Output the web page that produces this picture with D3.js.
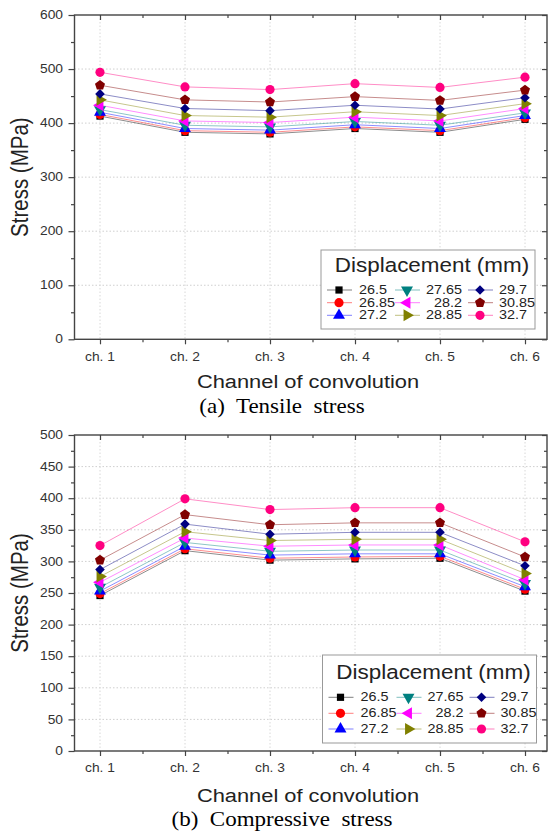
<!DOCTYPE html>
<html><head><meta charset="utf-8">
<script src="https://cdn.jsdelivr.net/npm/d3@7"></script>
<style>body{margin:0;background:#fff}svg{display:block}text{white-space:pre}</style>
</head><body>
<svg id="c" width="548" height="837"></svg>
<script>
// ---------- data ----------
const categories = ["ch. 1", "ch. 2", "ch. 3", "ch. 4", "ch. 5", "ch. 6"];
const seriesNames = ["26.5", "26.85", "27.2", "27.65", "28.2", "28.85", "29.7", "30.85", "32.7"];
const seriesColors = ["#000000", "#ff0000", "#0000ff", "#008080", "#ff00ff", "#808000", "#000080", "#800000", "#ff0080"];
const seriesShapes = ["square", "circle", "triUp", "triDown", "triLeft", "triRight", "diamond", "pentagon", "circle"];

// (a) Tensile stress, one row per displacement (mm), columns ch.1..ch.6
const tensile = [
  [413, 383, 380, 390, 383, 407],
  [416, 386, 383, 393, 386, 410],
  [420, 390, 387, 397, 390, 414],
  [425, 396, 393, 403, 396, 419],
  [433, 404, 401, 411, 404, 427],
  [443, 414, 411, 421, 414, 436],
  [454, 427, 423, 433, 426, 447],
  [470, 443, 439, 449, 442, 461],
  [494, 467, 462, 473, 466, 485]
];
// (b) Compressive stress
const compressive = [
  [246, 317, 302, 304, 305, 253],
  [249, 320, 305, 307, 308, 256],
  [253, 324, 310, 312, 312, 260],
  [259, 330, 316, 318, 318, 265],
  [267, 337, 324, 326, 326, 271],
  [276, 347, 333, 335, 335, 281],
  [287, 359, 343, 346, 346, 293],
  [302, 374, 358, 361, 361, 307],
  [325, 399, 382, 385, 385, 331]
];
const tensileTicks = [0, 100, 200, 300, 400, 500, 600];
const compressiveTicks = [0, 50, 100, 150, 200, 250, 300, 350, 400, 450, 500];

const legendTitle = "Displacement (mm)";
const yTitle = "Stress (MPa)";
const xTitle = "Channel of convolution";
const captions = ["(a)  Tensile  stress", "(b)  Compressive  stress"];

// ---------- drawing ----------
const svg = d3.select("#c");
const SX = 1.15;
const SANS = "'Liberation Sans', Arial, sans-serif";
const SERIF = "'Liberation Serif', 'Times New Roman', serif";

function label(g, x, y, s, size, anchor, opts = {}) {
  return g.append("text")
    .attr("transform", `translate(${x},${y}) scale(${SX},1)` + (opts.rotate ? ` rotate(${opts.rotate})` : ""))
    .attr("text-anchor", anchor)
    .attr("dominant-baseline", "central")
    .attr("font-family", opts.family || SANS)
    .attr("font-size", size)
    .attr("fill", opts.fill || "#222")
    .text(s);
}

const pentagon = {
  draw(ctx, size) {
    const r = Math.sqrt(size / 2.378);
    for (let i = 0; i < 5; i++) {
      const a = -Math.PI / 2 + i * 2 * Math.PI / 5;
      const px = r * Math.cos(a), py = r * Math.sin(a);
      if (i === 0) ctx.moveTo(px, py); else ctx.lineTo(px, py);
    }
    ctx.closePath();
  }
};
function marker(g, shape, x, y, color) {
  let type = d3.symbolCircle, size = 66, rot = 0;
  if (shape === "square") { type = d3.symbolSquare; size = 52; }
  else if (shape === "triUp") { type = d3.symbolTriangle; size = 62; }
  else if (shape === "triDown") { type = d3.symbolTriangle; size = 62; rot = 180; }
  else if (shape === "triLeft") { type = d3.symbolTriangle; size = 62; rot = -90; }
  else if (shape === "triRight") { type = d3.symbolTriangle; size = 62; rot = 90; }
  else if (shape === "diamond") { type = d3.symbolSquare; size = 46; rot = 45; }
  else if (shape === "pentagon") { type = pentagon; size = 66; }
  g.append("path")
    .attr("d", d3.symbol().type(type).size(size)())
    .attr("transform", `translate(${x},${y}) rotate(${rot})`)
    .attr("fill", color);
}

function drawChart(cfg) {
  const g = svg.append("g");
  const L = 74.5, R = 547;
  const x = d3.scalePoint().domain(categories).range([100, 525]);
  const y = d3.scaleLinear().domain([0, d3.max(cfg.ticks)]).range([cfg.bottom, cfg.top]);
  const step = cfg.ticks[1] - cfg.ticks[0];
  const minor = cfg.ticks.slice(0, -1).map(v => v + step / 2);
  const xs = categories.map(c => x(c));
  const xMinor = xs.slice(0, -1).map((v, i) => (v + xs[i + 1]) / 2);
  const ident = d3.scaleIdentity();

  // grid
  g.append("g").selectAll("line").data(cfg.ticks.slice(1, -1)).join("line")
    .attr("x1", L).attr("x2", R).attr("y1", d => y(d)).attr("y2", d => y(d))
    .attr("stroke", "#cfcfcf").attr("stroke-dasharray", "1.5,2").attr("stroke-width", 1);
  g.append("g").selectAll("line").data(categories).join("line")
    .attr("x1", d => x(d)).attr("x2", d => x(d)).attr("y1", cfg.top).attr("y2", cfg.bottom)
    .attr("stroke", "#d8d8d8").attr("stroke-dasharray", "1.5,2").attr("stroke-width", 1);

  // axes ticks
  const axCol = "#444";
  function styleAxis(sel) { sel.select(".domain").remove(); sel.selectAll("line").attr("stroke", axCol).attr("stroke-width", 1.2); sel.selectAll("text").remove(); }
  g.append("g").attr("transform", `translate(${L},0)`).call(d3.axisLeft(y).tickValues(cfg.ticks).tickSize(6)).call(styleAxis);
  g.append("g").attr("transform", `translate(${L},0)`).call(d3.axisLeft(y).tickValues(minor).tickSize(3.5)).call(styleAxis);
  g.append("g").attr("transform", `translate(${R},0)`).call(d3.axisLeft(y).tickValues(cfg.ticks).tickSize(5)).call(styleAxis);
  g.append("g").attr("transform", `translate(${R},0)`).call(d3.axisLeft(y).tickValues(minor).tickSize(3)).call(styleAxis);
  g.append("g").attr("transform", `translate(0,${cfg.bottom})`).call(d3.axisBottom(x).tickSize(5)).call(styleAxis);
  g.append("g").attr("transform", `translate(0,${cfg.bottom})`).call(d3.axisBottom(ident).tickValues(xMinor).tickSize(3)).call(styleAxis);
  g.append("g").attr("transform", `translate(0,${cfg.top})`).call(d3.axisBottom(x).tickSize(5)).call(styleAxis);
  g.append("g").attr("transform", `translate(0,${cfg.top})`).call(d3.axisBottom(ident).tickValues(xMinor).tickSize(3)).call(styleAxis);

  // frame
  g.append("rect").attr("x", L).attr("y", cfg.top).attr("width", R - L).attr("height", cfg.bottom - cfg.top)
    .attr("fill", "none").attr("stroke", axCol).attr("stroke-width", 1.4);

  // tick labels
  cfg.ticks.forEach(v => label(g, 63, y(v), String(v), 12, "end", { fill: "#333" }));
  categories.forEach(c => label(g, x(c), cfg.labelY, c, 12, "middle", { fill: "#333" }));

  // titles
  label(g, 20, (cfg.top + cfg.bottom) / 2, yTitle, 20.5, "middle", { rotate: -90 });
  label(g, 308, cfg.xTitleY, xTitle, 19, "middle");
  label(g, 282, cfg.captionY, cfg.caption, 20, "middle", { family: SERIF, fill: "#000" });

  // series
  const line = d3.line().x((d, i) => x(categories[i])).y(d => y(d));
  cfg.data.forEach((vals, si) => {
    g.append("path").attr("d", line(vals)).attr("fill", "none")
      .attr("stroke", seriesColors[si]).attr("stroke-opacity", 0.45).attr("stroke-width", 1);
  });
  cfg.data.forEach((vals, si) => {
    vals.forEach((v, i) => marker(g, seriesShapes[si], x(categories[i]), y(v), seriesColors[si]));
  });

  // legend
  const lg = cfg.legend;
  g.append("rect").attr("x", lg.x).attr("y", lg.y).attr("width", lg.w).attr("height", lg.h)
    .attr("fill", "#fff").attr("stroke", "#999").attr("stroke-width", 1);
  label(g, lg.x + lg.w / 2 + 4, lg.titleY, legendTitle, 19.5, "middle");
  const colMarker = [lg.x + 18, lg.x + 86, lg.x + 159];
  const colLabel = [{ x: lg.x + 38, a: "start" }, { x: lg.x + 141, a: "end" }, { x: lg.x + 178, a: "start" }];
  seriesNames.forEach((name, si) => {
    const col = Math.floor(si / 3), row = si % 3;
    const yy = lg.rows[row], mx = colMarker[col];
    g.append("line").attr("x1", mx - 12).attr("x2", mx + 13).attr("y1", yy).attr("y2", yy)
      .attr("stroke", seriesColors[si]).attr("stroke-opacity", 0.5).attr("stroke-width", 1);
    marker(g, seriesShapes[si], mx, yy, seriesColors[si]);
    label(g, colLabel[col].x, yy, name, 12.5, colLabel[col].a);
  });
}

drawChart({
  top: 15, bottom: 339.3, ticks: tensileTicks, data: tensile,
  labelY: 357, xTitleY: 381.5, captionY: 406.5, caption: captions[0],
  legend: { x: 321, y: 250, w: 214, h: 79, titleY: 265.5, rows: [290, 302.7, 315.3] }
});
drawChart({
  top: 435, bottom: 751, ticks: compressiveTicks, data: compressive,
  labelY: 768, xTitleY: 795, captionY: 820, caption: captions[1],
  legend: { x: 322.5, y: 655, w: 214, h: 88, titleY: 672, rows: [697.3, 713.3, 729] }
});
</script>
</body></html>
